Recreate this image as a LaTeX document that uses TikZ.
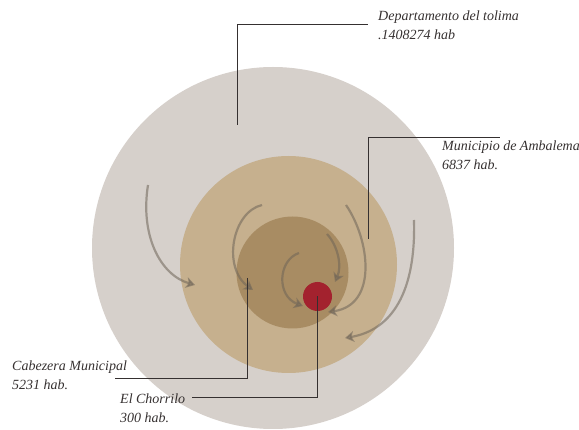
\documentclass[tikz,border=0pt]{standalone}
\usepackage{fontspec}
\setmainfont{Liberation Serif}
\usepackage{tikz}
\usetikzlibrary{arrows.meta,positioning,calc}
\definecolor{deptgrey}{HTML}{D6D0CB}
\definecolor{munitan}{HTML}{C6B08E}
\definecolor{cabebrown}{HTML}{A88C63}
\definecolor{chorred}{HTML}{A3222E}
\definecolor{flowgrey}{HTML}{6E6458}
\definecolor{leadgrey}{HTML}{353030}
\newcommand{\poptext}[2]{\begin{tabular}{@{}l@{}} #1 \\ #2 \end{tabular}}

\begin{document}
\begin{tikzpicture}[x=1pt, y=-1pt, >={Stealth[length=9pt,width=11pt,inset=2.5pt]},
 disc/.style={circle, draw=none, inner sep=0pt},
 flow/.style={->, draw=flowgrey, opacity=0.55, line width=2.2pt},
 leader/.style={draw=leadgrey, line width=1pt},
 poplabel/.style={anchor=north west, inner sep=0pt, text=leadgrey,
   font=\fontsize{14}{19}\selectfont\itshape}]
\useasboundingbox (0,0) rectangle (579,430);
\node[disc, fill=deptgrey, minimum size=362pt] (dept) at (273,248) {};
\node[disc, fill=munitan, minimum size=217pt] (muni) at (288.5,264.5) {};
\node[disc, fill=cabebrown, minimum size=112pt] (cabe) at (292.5,272.5) {};
\node[disc, fill=chorred, minimum size=29pt] (chor) at (317.5,296.5) {};
% flows towards the centre
\coordinate (a1) at (148,185); \coordinate (a2) at (195,285);
\coordinate (b1) at (262,205); \coordinate (b2) at (253,290);
\coordinate (c1) at (299,253); \coordinate (c2) at (303,306);
\coordinate (d1) at (327,234); \coordinate (d2) at (335,282);
\coordinate (e1) at (346,205); \coordinate (e2) at (328,312);
\coordinate (f1) at (414,220); \coordinate (f2) at (345,338);
\draw[flow] (a1) .. controls (140,235) and (160,275) .. (a2);
\draw[flow] (b1) .. controls (232,212) and (222,268) .. (b2);
\draw[flow] (c1) .. controls (278,260) and (276,296) .. (c2);
\draw[flow] (d1) .. controls (338,246) and (342,266) .. (d2);
\draw[flow] (e1) .. controls (370,240) and (378,305) .. (e2);
\draw[flow] (f1) .. controls (416,292) and (392,330) .. (f2);
% labels
\node[poplabel] (deptlab) at (378,7) {\poptext{Departamento del tolima}{.1408274 hab}};
\node[poplabel] (munilab) at (442,137) {\poptext{Municipio de Ambalema}{6837 hab.}};
\node[poplabel] (cabelab) at (12,357) {\poptext{Cabezera Municipal}{5231 hab.}};
\node[poplabel] (chorlab) at (120,390) {\poptext{El Chorrilo}{300 hab.}};
\coordinate (deptpt) at (237,125);
\coordinate (munipt) at (368,239);
\coordinate (cabept) at (247,278);
\coordinate (chorpt) at (chor.center);
\coordinate (deptend) at (368,25);
\coordinate (muniend) at (500,138);
\coordinate (cabeend) at (115,379);
\coordinate (chorend) at (192,398);
\draw[leader] (deptpt) |- (deptend);
\draw[leader] (munipt) |- (muniend);
\draw[leader] (cabept) |- (cabeend);
\draw[leader] (chorpt) |- (chorend);
\end{tikzpicture}
\end{document}
